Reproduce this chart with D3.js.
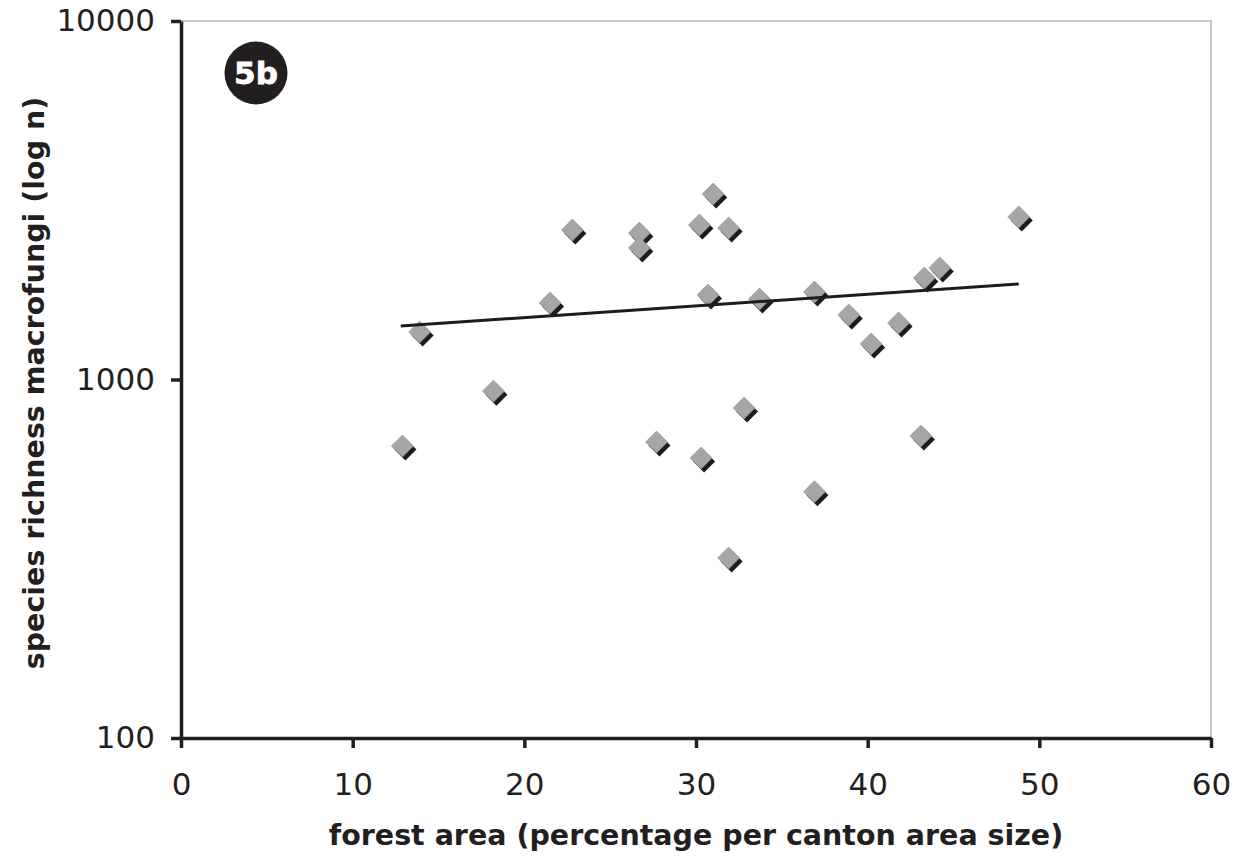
<!DOCTYPE html>
<html>
<head>
<meta charset="utf-8">
<script src="https://cdn.jsdelivr.net/npm/d3@7"></script>
<style>
  body { margin: 0; background: #fff; }
  text { font-family: "DejaVu Sans", Verdana, sans-serif; fill: #231f20; }
</style>
</head>
<body>
<script>
// forest area (%) per canton and species richness of macrofungi
var forestArea = [12.9, 13.9, 18.2, 21.5, 22.8, 26.7, 26.7, 27.7, 30.2, 30.3, 31.0, 30.7, 31.9,
                  31.9, 32.8, 33.7, 36.9, 36.9, 38.9, 40.2, 41.8, 43.1, 43.3, 44.2, 48.8];
var richness   = [652, 1357, 928, 1635, 2612, 2562, 2328, 669, 2697, 604, 3291, 1721, 2646,
                  318, 833, 1676, 1754, 486, 1514, 1256, 1438, 696, 1919, 2047, 2841];

// regression line end points
var trendX = [12.8, 48.8];
var trendY = [1410, 1847];

var xTicks = [0, 10, 20, 30, 40, 50, 60];
var yTicks = [100, 1000, 10000];

var width = 1240, height = 856;
var mLeft = 181, mRight = 1211, mTop = 21, mBottom = 738;

var svg = d3.select("body").append("svg")
    .attr("width", width)
    .attr("height", height);

var x = d3.scaleLinear().domain([0, 60]).range([mLeft, mRight]);
var y = d3.scaleLog().domain([100, 10000]).range([mBottom, mTop]);

// thin grey frame at top and right
svg.append("path")
    .attr("d", "M" + mLeft + "," + mTop + "H" + mRight + "V" + mBottom)
    .attr("fill", "none")
    .attr("stroke", "#b5b5b5")
    .attr("stroke-width", 1.5);

// x axis
var xAxis = svg.append("g")
    .attr("transform", "translate(0," + mBottom + ")")
    .call(d3.axisBottom(x).tickValues(xTicks).tickSize(10).tickSizeOuter(0).tickPadding(25));
xAxis.select(".domain").attr("stroke", "#231f20").attr("stroke-width", 3.5);
xAxis.selectAll(".tick line").attr("stroke", "#231f20").attr("stroke-width", 3.5);
xAxis.selectAll("text").style("font-size", "31px").attr("fill", "#231f20")
    .style("font-family", "'DejaVu Sans', Verdana, sans-serif");

// y axis
var yAxis = svg.append("g")
    .attr("transform", "translate(" + mLeft + ",0)")
    .call(d3.axisLeft(y).tickValues(yTicks).tickFormat(d3.format("d")).tickSize(10).tickSizeOuter(0).tickPadding(16));
yAxis.select(".domain").attr("stroke", "#231f20").attr("stroke-width", 3.5);
yAxis.selectAll(".tick line").attr("stroke", "#231f20").attr("stroke-width", 3.5);
yAxis.selectAll("text").style("font-size", "31px").attr("fill", "#231f20")
    .style("font-family", "'DejaVu Sans', Verdana, sans-serif");

// axis titles
svg.append("text")
    .attr("x", 696)
    .attr("y", 845)
    .attr("text-anchor", "middle")
    .style("font-size", "28.5px")
    .style("font-weight", "bold")
    .text("forest area (percentage per canton area size)");

svg.append("text")
    .attr("transform", "translate(44," + 383 + ") rotate(-90)")
    .attr("text-anchor", "middle")
    .style("font-size", "28.5px")
    .style("font-weight", "bold")
    .text("species richness macrofungi (log n)");

// points: diamonds with a dark drop shadow
var diamond = "M0,-11L11,0L0,11L-11,0Z";
var pts = svg.append("g");
forestArea.forEach(function (d, i) {
    var g = pts.append("g")
        .attr("transform", "translate(" + x(d) + "," + y(richness[i]) + ")");
    g.append("path").attr("d", diamond)
        .attr("transform", "translate(3,3.5)")
        .attr("fill", "#1e1b1c");
    g.append("path").attr("d", diamond)
        .attr("fill", "#a6a6a8")
        .attr("stroke", "#8e8e90")
        .attr("stroke-width", 0.6);
});

// trend line
svg.append("line")
    .attr("x1", x(trendX[0])).attr("y1", y(trendY[0]))
    .attr("x2", x(trendX[1])).attr("y2", y(trendY[1]))
    .attr("stroke", "#1e1b1c")
    .attr("stroke-width", 3);

// panel badge
svg.append("circle")
    .attr("cx", 256).attr("cy", 73).attr("r", 31.5)
    .attr("fill", "#231f20");
svg.append("text")
    .attr("x", 256).attr("y", 84)
    .attr("text-anchor", "middle")
    .style("font-size", "31px")
    .style("font-weight", "bold")
    .style("fill", "#fff")
    .style("stroke", "#fff")
    .style("stroke-width", 0.8)
    .text("5b");
</script>
</body>
</html>
